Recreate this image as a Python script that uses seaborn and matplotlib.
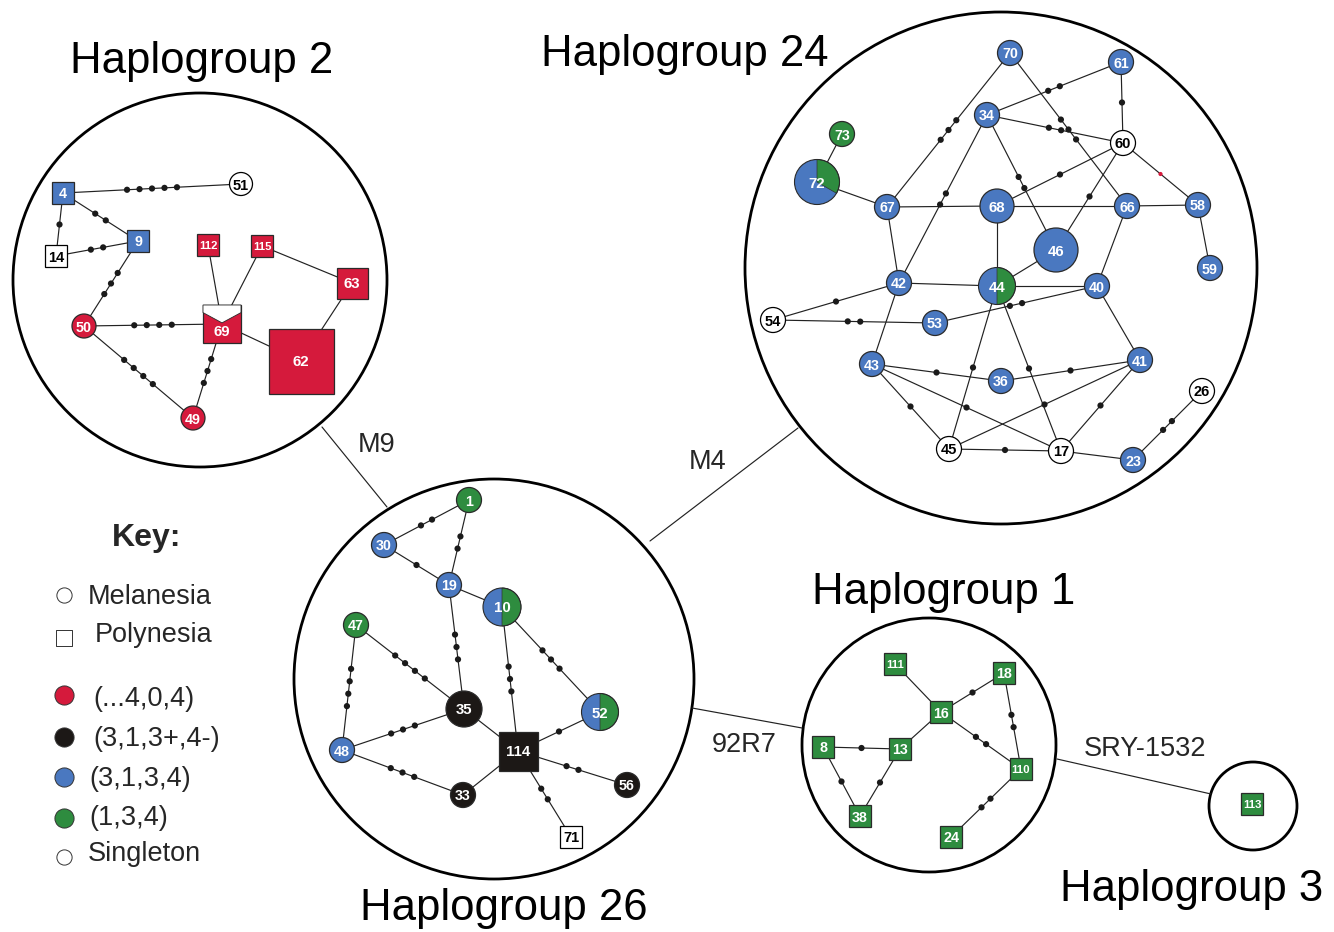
"""
Y-chromosome haplotype networks (haplogroups 1, 2, 3, 24, 26) with key
"""
import numpy as np
import pandas as pd
import matplotlib
matplotlib.use("Agg")
import matplotlib.pyplot as plt
from matplotlib.patches import Circle, Rectangle, Wedge, Polygon
import seaborn as sns

# haplotype nodes, positions (pixels, y down)
node_id = ["4", "51", "9", "14", "112", "115", "63", "69", "62", "50", "49",
           "70", "61", "34", "73", "60", "72", "67", "68", "66", "58", "46", "59",
           "42", "44", "40", "54", "53", "43", "36", "41", "26", "45", "17", "23",
           "1", "30", "19", "10", "47", "35", "52", "114", "48", "33", "56", "71",
           "111", "18", "16", "8", "13", "110", "38", "24",
           "113"]
node_x = [63, 241, 138, 56, 208, 262, 352, 222, 301, 84, 193,
          1010, 1121, 987, 842, 1123, 817, 887, 997, 1127, 1198, 1056, 1210,
          899, 997, 1097, 773, 935, 872, 1001, 1140, 1202, 949, 1061, 1133,
          469, 384, 449, 502, 356, 464, 600, 518, 342, 463, 627, 571,
          895, 1004, 941, 823, 900, 1021, 860, 951,
          1252]
node_y = [193, 184, 241, 256, 245, 246, 283, 324, 361, 326, 418,
          53, 62, 115, 134, 143, 182, 207, 206, 206, 205, 250, 268,
          283, 286, 286, 320, 323, 364, 381, 360, 391, 449, 451, 460,
          500, 545, 585, 607, 625, 709, 712, 751, 750, 795, 785, 837,
          664, 673, 712, 747, 749, 769, 816, 837,
          804]
node_size = [22, 23, 22, 22, 22, 22, 31, 38, 65, 24, 24,
             25, 25, 25, 25, 25, 45, 25, 34, 25, 25, 44, 25,
             25, 37, 25, 25, 25, 25, 25, 25, 25, 25, 25, 25,
             25, 25, 25, 38, 25, 36, 37, 39, 25, 25, 25, 22,
             22, 22, 22, 22, 22, 22, 22, 22,
             22]
# o = Melanesia (circle), s = Polynesia (square), v = square with notch
node_shape = ["s", "o", "s", "s", "s", "s", "s", "v", "s", "o", "o",
              "o", "o", "o", "o", "o", "o", "o", "o", "o", "o", "o", "o",
              "o", "o", "o", "o", "o", "o", "o", "o", "o", "o", "o", "o",
              "o", "o", "o", "o", "o", "o", "o", "s", "o", "o", "o", "s",
              "s", "s", "s", "s", "s", "s", "s", "s",
              "s"]
node_fill = ["blue", "white", "blue", "white", "red", "red", "red", "red", "red", "red", "red",
             "blue", "blue", "blue", "green", "white", "pie", "blue", "blue", "blue", "blue", "blue", "blue",
             "blue", "pie", "blue", "white", "blue", "blue", "blue", "blue", "white", "white", "white", "blue",
             "green", "blue", "blue", "pie", "green", "black", "pie", "black", "blue", "black", "black", "white",
             "green", "green", "green", "green", "green", "green", "green", "green",
             "green"]
# green part of the two-colour haplotypes
green_share = {"72": 1 / 3, "44": 0.5, "10": 0.5, "52": 0.5}

# links between haplotypes and number of intermediate mutational steps
edge_a = ["4", "4", "4", "14", "9", "50", "50", "69", "112", "115", "115", "63", "69",
          "70", "70", "61", "61", "34", "34", "34", "60", "60", "60", "72", "72", "67",
          "68", "66", "67", "68", "66", "58", "46", "42", "44", "42", "54", "53", "42",
          "40", "43", "36", "43", "43", "44", "44", "41", "41", "45", "17", "23",
          "1", "1", "30", "19", "19", "10", "10", "47", "47", "35", "35", "52", "48",
          "33", "114", "114",
          "111", "16", "16", "16", "18", "8", "8", "13", "110"]
edge_b = ["51", "14", "9", "9", "50", "69", "49", "49", "69", "69", "63", "62", "62",
          "67", "66", "34", "60", "60", "42", "46", "68", "46", "58", "73", "67", "68",
          "66", "58", "42", "44", "40", "59", "44", "44", "40", "54", "53", "40", "43",
          "41", "36", "41", "45", "17", "45", "17", "45", "17", "17", "23", "26",
          "30", "19", "19", "10", "35", "114", "52", "48", "35", "48", "114", "114", "33",
          "114", "56", "71",
          "16", "18", "13", "110", "110", "13", "38", "38", "24"]
edge_steps = [5, 1, 2, 2, 3, 4, 4, 3, 0, 0, 0, 0, 0,
              3, 3, 2, 1, 2, 2, 2, 1, 1, 1, 0, 0, 0,
              0, 0, 0, 0, 0, 0, 0, 0, 0, 1, 2, 2, 0,
              0, 1, 1, 1, 1, 1, 1, 1, 1, 1, 0, 2,
              2, 2, 1, 0, 3, 3, 3, 4, 4, 3, 0, 1, 3,
              0, 2, 2,
              0, 1, 0, 2, 2, 1, 1, 1, 2]
red_step_edges = [("60", "58")]

# haplogroup circles and titles
group_name = ["Haplogroup 2", "Haplogroup 24", "Haplogroup 26", "Haplogroup 1", "Haplogroup 3"]
group_cx = [200, 1001, 494, 929, 1253]
group_cy = [280, 268, 679, 745, 806]
group_r = [187, 256, 200, 127, 44]
title_x = [70, 541, 360, 812, 1060]
title_y = [73, 66, 920, 604, 901]

# mutations separating the haplogroups
link_label = ["M9", "M4", "92R7", "SRY-1532"]
link_x0 = [322, 650, 692, 1057]
link_y0 = [427, 541, 708, 759]
link_x1 = [387, 798, 802, 1211]
link_y1 = [507, 428, 728, 794]
link_tx = [377, 708, 744, 1145]
link_ty = [445, 462, 745, 749]

key_text = ["Melanesia", "Polynesia", "(...4,0,4)", "(3,1,3+,4-)", "(3,1,3,4)", "(1,3,4)", "Singleton"]
key_fill = ["white", "white", "red", "black", "blue", "green", "white"]
key_marker = ["o", "s", "o", "o", "o", "o", "o"]
key_my = [595, 638, 695, 737, 777, 818, 857]
key_ty = [604, 642, 706, 746, 786, 825, 861]
key_tx = [88, 95, 93, 93, 89, 89, 88]

pal = {"red": "#d51a3c", "black": "#1c1816", "blue": "#4a78c0",
       "green": "#2e8c3f", "white": "#ffffff"}

sns.set_theme(style="white")
plt.rcParams["font.family"] = ["Liberation Sans", "DejaVu Sans"]

fig = plt.figure(figsize=(13.34, 9.32), dpi=100)
ax = fig.add_axes([0, 0, 1, 1])

# group circles, titles, inter-group links
for name, cx, cy, r, tx, ty in zip(group_name, group_cx, group_cy, group_r, title_x, title_y):
    ax.add_patch(Circle((cx, cy), r, fc="none", ec="black", lw=2.0, zorder=1))
    ax.text(tx, ty, name, fontsize=31.5, ha="left", va="baseline", color="black")

for lab, x0, y0, x1, y1, tx, ty in zip(link_label, link_x0, link_y0, link_x1, link_y1, link_tx, link_ty):
    ax.plot([x0, x1], [y0, y1], color="#222222", lw=0.85, zorder=1)
    ax.text(tx, ty, lab, fontsize=19.5, ha="center", va="center")

# edges with mutational steps as small dots
pos = {n: (x, y) for n, x, y in zip(node_id, node_x, node_y)}
dots = []
for a, b, k in zip(edge_a, edge_b, edge_steps):
    (x0, y0), (x1, y1) = pos[a], pos[b]
    ax.plot([x0, x1], [y0, y1], color="#222222", lw=0.85, zorder=2)
    if k:
        L = np.hypot(x1 - x0, y1 - y0)
        ux, uy = (x1 - x0) / L, (y1 - y0) / L
        mx, my = (x0 + x1) / 2, (y0 + y1) / 2
        kind = "red" if (a, b) in red_step_edges else "step"
        for o in (np.arange(k) - (k - 1) / 2) * 12.5:
            dots.append((mx + o * ux, my + o * uy, kind))

dots = pd.DataFrame(dots, columns=["x", "y", "kind"])
sns.scatterplot(data=dots, x="x", y="y", hue="kind", size="kind",
                palette={"step": "#1a1a1a", "red": pal["red"]},
                sizes={"step": 20, "red": 9}, edgecolor="none",
                legend=False, zorder=3, ax=ax)

# haplotype nodes
for n, x, y, d, shp, fill in zip(node_id, node_x, node_y, node_size, node_shape, node_fill):
    h = d / 2
    ec = "black" if fill == "white" else "#2a2a2a"
    if shp == "o":
        if fill == "pie":
            ax.add_patch(Circle((x, y), h, fc=pal["blue"], ec="none", zorder=4))
            ax.add_patch(Wedge((x, y), h, -90, -90 + 360 * green_share[n],
                               fc=pal["green"], ec="#333333", lw=0.5, zorder=4))
            ax.add_patch(Circle((x, y), h, fc="none", ec=ec, lw=0.8, zorder=4))
        else:
            ax.add_patch(Circle((x, y), h, fc=pal[fill], ec=ec, lw=0.9, zorder=4))
    else:
        ax.add_patch(Rectangle((x - h, y - h), d, d, fc=pal[fill], ec=ec, lw=0.9, zorder=4))
        if shp == "v":
            ax.add_patch(Polygon([(x - h, y - h), (x + h, y - h), (x + h, y - h + 0.2 * d),
                                  (x, y - h + 0.47 * d), (x - h, y - h + 0.2 * d)],
                                 closed=True, fc="white", ec="#2a2a2a", lw=0.6, zorder=4))
    if fill == "white":
        ax.text(x, y, n, fontsize=10.5, fontweight="bold", color="black",
                ha="center", va="center_baseline", zorder=5)
    else:
        fs = 8.2 if (len(n) == 3 and d < 30) else (10.8 if d >= 30 else 10.3)
        ty = y + 0.18 * d if shp == "v" else y
        ax.text(x, ty, n, fontsize=fs, color="white", fontweight="semibold",
                ha="center", va="center_baseline", zorder=5)

# key
ax.text(147, 546, "Key:", fontsize=23, fontweight="bold", ha="center", va="baseline")
for txt, fill, mk, my, ty, tx in zip(key_text, key_fill, key_marker, key_my, key_ty, key_tx):
    s = 120 if fill == "white" else 190
    ax.scatter([64], [my], s=s, marker=mk, c=pal[fill], edgecolors="#333333",
               linewidths=0.7, zorder=4)
    ax.text(tx, ty, txt, fontsize=19.5, ha="left", va="baseline")

ax.set_xlim(0, 1334)
ax.set_ylim(932, 0)
ax.axis("off")
fig.savefig("out.png", dpi=100, facecolor="white")
